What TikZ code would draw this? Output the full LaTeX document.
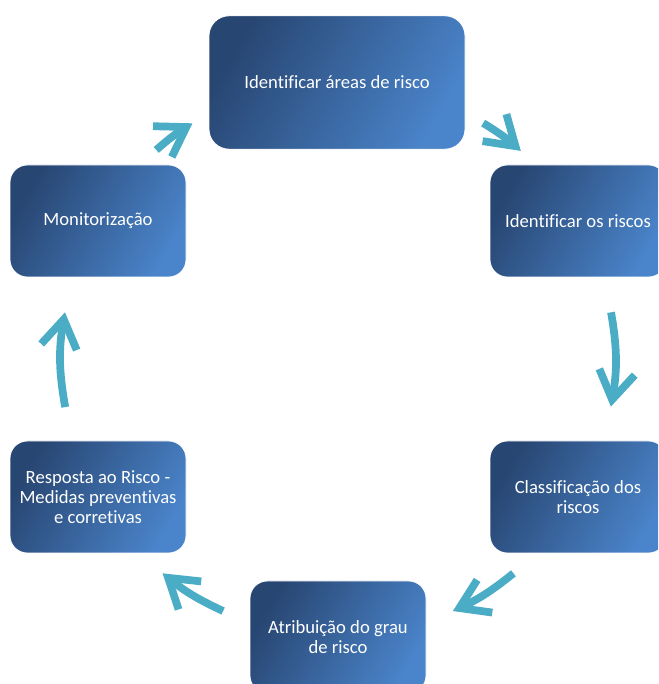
\documentclass[tikz,border=0pt]{standalone}
\usepackage{fontspec}
\setmainfont{Carlito}[Ligatures=CommonOff]
\usetikzlibrary{arrows.meta}
\definecolor{boxdark}{RGB}{40,70,114}
\definecolor{boxlight}{RGB}{74,132,202}
\definecolor{arrowteal}{RGB}{75,172,198}
\tikzset{
	riskbox/.style={rectangle, rounded corners=13pt, draw=white, line width=0.6pt,
		top color=boxdark, bottom color=boxlight, shading angle=60,
		text=white, align=center, font=\fontsize{14}{15}\selectfont,
		minimum width=132pt, minimum height=84pt, inner sep=0pt},
	riskarrow/.style={draw=arrowteal, line width=5.8pt,
		-{Straight Barb[length=21pt, width=27pt]}},
}

\begin{document}
\begin{tikzpicture}[x=0.75pt, y=0.75pt] % {{{
\useasboundingbox (0,0) rectangle (658,684);
\clip (0,0) rectangle (658,684);
\pgfmathsetmacro{\cycr}{277}
\coordinate (ctr) at (338,325);
% boxes of the cycle
\node[riskbox, minimum width=192pt, minimum height=100pt, rounded corners=15pt] (areas) at (337,601.5) {Identificar áreas de risco};
\node[riskbox] (riscos) at (578,463) {Identificar os riscos};
\node[riskbox] (classif) at (578,187) {Classificação dos\\riscos};
\node[riskbox] (grau) at (338,47) {Atribuição do grau\\de risco};
\node[riskbox] (resposta) at (98,187) {Resposta ao Risco -\\Medidas preventivas\\e corretivas};
\node[riskbox] (monit) at (98,463) {Monitorização};
% arrows, on the circle through the boxes
\foreach \i/\from/\to/\bend in {1/131/121.7/5, 2/58.4/48.7/5, 3/9.7/-9.9/10, 4/-50.7/-65.5/7, 5/-114.5/-129.3/7, 6/190/170.3/10} {
	\coordinate (s\i) at ([shift={(\from:\cycr)}]ctr);
	\coordinate (e\i) at ([shift={(\to:\cycr)}]ctr);
	\draw[riskarrow] (s\i) to[bend left=\bend] (e\i);
}
\end{tikzpicture} % }}}
\end{document}
